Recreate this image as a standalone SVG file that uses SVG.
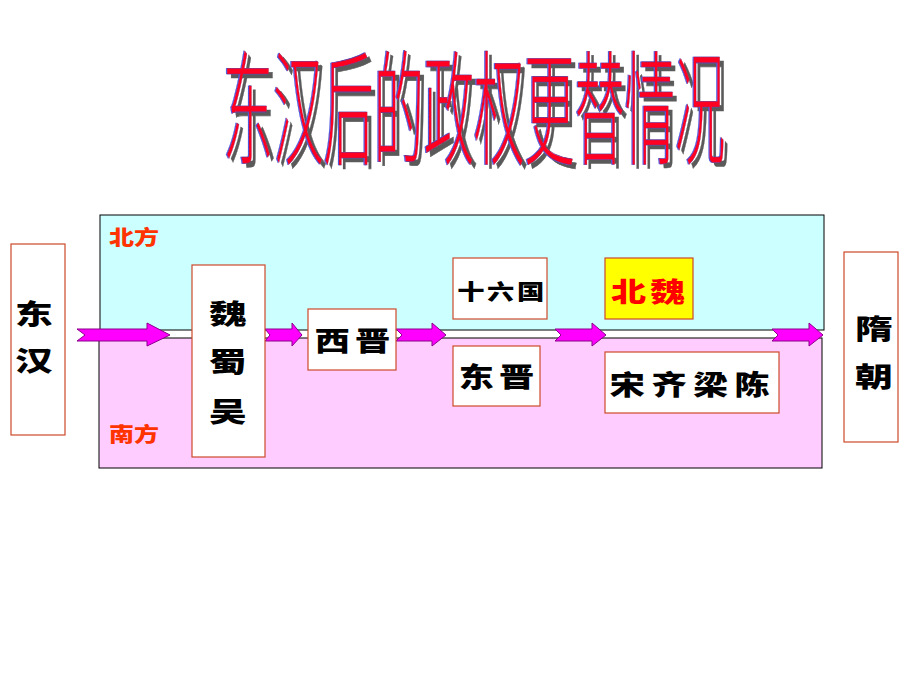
<svg xmlns="http://www.w3.org/2000/svg" width="920" height="690" viewBox="0 0 920 690">
<defs>
<filter id="ts" x="-5%" y="-10%" width="112%" height="125%">
<feFlood flood-color="#5a5a5a"/>
<feComposite in2="SourceAlpha" operator="in"/>
<feOffset dx="3.5" dy="3.5" result="g"/>
<feFlood flood-color="#4a5ae0"/>
<feComposite in2="SourceAlpha" operator="in"/>
<feOffset dx="-1.5" dy="0" result="b"/>
<feMerge><feMergeNode in="g"/><feMergeNode in="b"/><feMergeNode in="SourceGraphic"/></feMerge>
</filter>
</defs>
<style>
.box{fill:#ffffff;stroke:#cc4a2a;stroke-width:1.2}
.t{font-family:"Noto Sans CJK SC","Noto Sans CJK TC",sans-serif;font-weight:900;fill:#000;text-anchor:middle;font-size:27px}
.reg{font-family:"Noto Sans CJK SC",sans-serif;font-weight:900;fill:#ff3300;font-size:20px}
.arr{fill:#ff00ff;stroke:#8a008a;stroke-width:1}
.ttl{font-family:"Noto Sans CJK SC",sans-serif;font-weight:300;font-size:124px;fill:#ff0022;stroke:#7a2a6a;stroke-width:0.6}
</style>
<rect width="920" height="690" fill="#ffffff"/>
<g id="title" filter="url(#ts)">
<text class="ttl" transform="translate(223,155) scale(0.405,1)">东汉后的政权更替情况</text>
</g>
<g id="regions">
<rect x="100" y="215" width="724" height="115" fill="#ccffff" stroke="#000" stroke-width="1"/>
<rect x="99" y="338" width="723" height="130" fill="#ffccff" stroke="#000" stroke-width="1"/>
<text class="reg" transform="translate(109,245) scale(1.25,1)">北方</text>
<text class="reg" transform="translate(109,442) scale(1.25,1)">南方</text>
</g>
<g id="connectors">
<polygon class="arr" points="77,329 147,329 147,323 170,335 147,346 147,341 77,341 85,335"/>
<polygon class="arr" points="265,329 292,329 292,323 302,335 292,346 292,341 265,341 270,335"/>
<polygon class="arr" points="396,329 432,329 432,323 446,335 432,346 432,341 396,341 402,335"/>
<polygon class="arr" points="555,329 592,329 592,323 606,335 592,346 592,341 555,341 561,335"/>
<polygon class="arr" points="772,329 809,329 809,323 823,335 809,346 809,341 772,341 778,335"/>
</g>
<g id="donghan">
<rect class="box" x="11" y="244" width="54" height="191"/>
<text class="t" transform="translate(34,324) scale(1.4,1)">东</text>
<text class="t" transform="translate(34,371) scale(1.4,1)">汉</text>
</g>
<g id="weishuwu">
<rect class="box" x="192" y="265" width="73" height="192"/>
<text class="t" transform="translate(228,324) scale(1.4,1)">魏</text>
<text class="t" transform="translate(228,372) scale(1.4,1)">蜀</text>
<text class="t" transform="translate(228,422) scale(1.4,1)">吴</text>
</g>
<g id="xijin">
<rect class="box" x="308" y="309" width="88" height="61"/>
<text class="t" transform="translate(355,351) scale(1.3,1)" letter-spacing="4">西晋</text>
</g>
<g id="shiliuguo">
<rect class="box" x="453" y="258" width="94" height="61"/>
<text class="t" transform="translate(502,299) scale(1.3,1)" style="font-size:21px" letter-spacing="2">十六国</text>
</g>
<g id="dongjin">
<rect class="box" x="453" y="346" width="87" height="60"/>
<text class="t" transform="translate(499,387) scale(1.3,1)" letter-spacing="4">东晋</text>
</g>
<g id="beiwei">
<rect x="605" y="258" width="88" height="61" fill="#ffff00" stroke="#cc4a2a" stroke-width="1.2"/>
<text class="t" transform="translate(650,302) scale(1.3,1)" style="fill:#ff0000" letter-spacing="3">北魏</text>
</g>
<g id="songqiliangchen">
<rect class="box" x="605" y="352" width="174" height="61"/>
<text class="t" transform="translate(693,395) scale(1.3,1)" letter-spacing="5">宋齐梁陈</text>
</g>
<g id="suichao">
<rect class="box" x="844" y="252" width="54" height="190"/>
<text class="t" transform="translate(874,339) scale(1.4,1)">隋</text>
<text class="t" transform="translate(874,387) scale(1.4,1)">朝</text>
</g>
</svg>
